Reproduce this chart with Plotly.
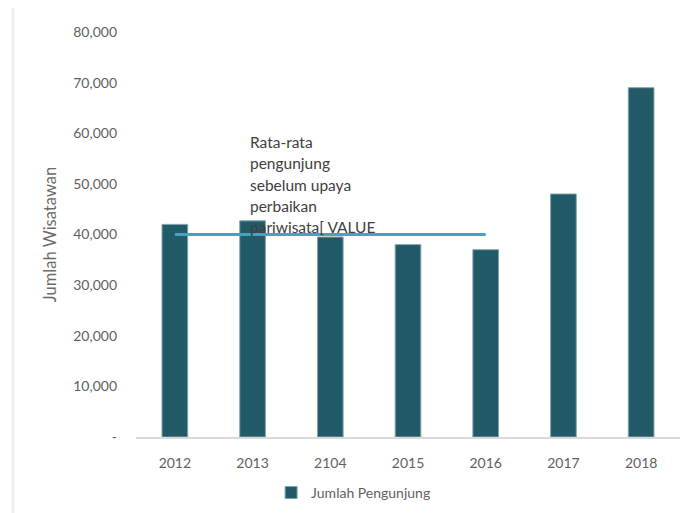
import plotly.graph_objects as go

# --- Data ---
years = ["2012", "2013", "2104", "2015", "2016", "2017", "2018"]
pengunjung = [42000, 42700, 39500, 38000, 37000, 48000, 69000]
avg_years = ["2012", "2016"]
avg_value = [40000, 40000]
y_ticks = [0, 10000, 20000, 30000, 40000, 50000, 60000, 70000, 80000]
y_ticktext = ["-", "10,000", "20,000", "30,000", "40,000", "50,000", "60,000", "70,000", "80,000"]
note_lines = ["Rata-rata", "pengunjung", "sebelum upaya", "perbaikan", "pariwisata[ VALUE"]

fig = go.Figure()
fig.add_trace(go.Bar(x=years, y=pengunjung, name="Jumlah Pengunjung", width=0.33,
                     marker=dict(color="#225A68", line=dict(color="#7FA3AC", width=1))))
fig.add_trace(go.Scatter(x=avg_years, y=avg_value, mode="lines", showlegend=False,
                         line=dict(color="#45A3BC", width=3)))

# average label, one annotation per line to get Excel-like spacing
for i, t in enumerate(note_lines):
    fig.add_annotation(text=t, xref="paper", yref="paper", x=0.206, y=0.728 - i * 0.0524,
                       xanchor="left", yanchor="middle", showarrow=False,
                       font=dict(family="Lato", size=15.5, color="#404040"))

# faint left border of the chart area
fig.add_shape(type="line", xref="paper", yref="paper", x0=-0.226, x1=-0.226, y0=-0.2, y1=1.06,
              line=dict(color="#EFEFEF", width=3))

fig.update_layout(
    width=688, height=513, plot_bgcolor="white", paper_bgcolor="white",
    margin=dict(l=128, r=16, t=24, b=84, autoexpand=False),
    font=dict(family="Lato", size=14, color="#5F5F5F"),
    bargap=0.6,
    showlegend=True,
    legend=dict(orientation="h", x=0.4, y=-0.138, xanchor="center", yanchor="middle",
                font=dict(size=14, color="#5F5F5F")),
    xaxis=dict(showline=True, linecolor="#D9D9D9", linewidth=2, ticks="", ticklabelstandoff=12,
               tickfont=dict(size=14)),
    yaxis=dict(range=[0, 80000], tickvals=y_ticks, ticktext=y_ticktext, showgrid=False,
               zeroline=False, ticks="", ticklabelstandoff=18, tickfont=dict(size=14),
               title=dict(text="Jumlah Wisatawan", standoff=12, font=dict(size=16.5, color="#6A6A6A"))),
)

fig.write_html("out.html")
